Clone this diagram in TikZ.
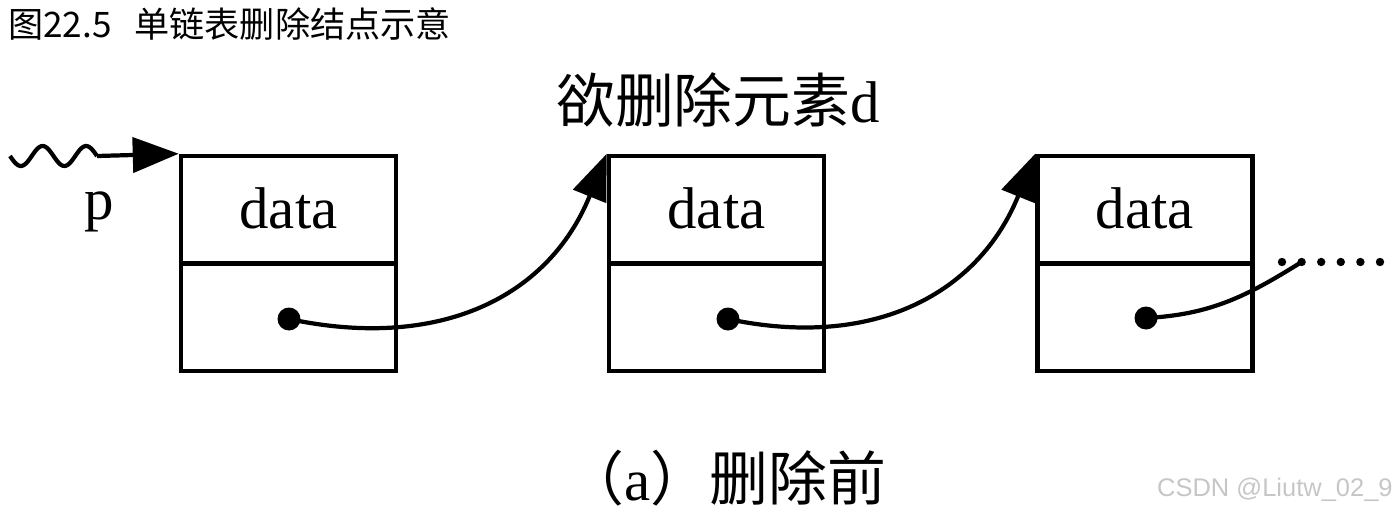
\documentclass[tikz,border=0pt]{standalone}
\usepackage{fontspec}
\setmainfont{Liberation Serif}
\setsansfont{Liberation Sans}
\newfontfamily\cjk{Noto Sans CJK SC}
\usepackage{tikz}
\usetikzlibrary{arrows.meta,positioning,calc}

\begin{document}
\begin{tikzpicture}[
        x=0.02cm, y=0.02cm,
        box/.style={draw, line width=2.6pt, minimum width=4.3cm, minimum height=4.3cm, inner sep=0pt},
        lbl/.style={font=\fontsize{33.5}{40}\selectfont, inner sep=0pt},
        dot/.style={circle, fill, minimum size=0.46cm, inner sep=0pt},
        ptr/.style={line width=2.4pt, -{Triangle[length=0.92cm,width=0.7cm]}},
      ]
        \useasboundingbox (0,0) rectangle (1397,-514);

        % title
        \node[anchor=west, inner sep=0pt, font=\cjk\fontsize{20}{24}\selectfont] (title) at (8,-24) {图22.5\hspace{0.65em}单链表删除结点示意};

        % nodes of the list
        \node[box] (b1) at (288.5,-263.5) {};
        \node[box] (b2) at (716.5,-263.5) {};
        \node[box] (b3) at (1145,-263.5) {};
        \foreach \b in {b1,b2,b3} {
          \draw[line width=2.6pt] (\b.west) -- (\b.east);
          \node[lbl] (\b-data) at ($(\b.north)!0.5!(\b.center)$) {data};
        }

        % next pointers
        \node[dot] (d1) at (289,-319) {};
        \node[dot] (d2) at (728,-319) {};
        \node[dot] (d3) at (1146,-318) {};
        \draw[ptr] (d1.center) to[out=-12, in=248, looseness=1.1] (b2.north west);
        \draw[ptr] (d2.center) to[out=-12, in=248, looseness=1.1] (b3.north west);

        % rest of the list
        \foreach \i in {0,...,5}
          \fill (1282+\i*19.6,-262) circle (4.2);
        \coordinate (more) at (1301.6,-262);
        \draw[line width=2.4pt] (d3.center) to[out=3, in=212] (more);

        % head pointer p
        \coordinate (w0) at (10,-156);
        \coordinate (w1) at (97,-156);
        \draw[line width=2.4pt] (w0) -- plot[domain=0:87, samples=60, smooth] ({10+\x}, {-156-10*sin(\x/43.5*360)}) -- (w1);
        \draw[ptr] (w1) -- (b1.north west);
        \node[lbl] (p) at (99,-212) {p};

        % labels
        \node[lbl] (del) at (718,-100) {{\cjk 欲删除元素}d};
        \node[lbl] (cap) at (726,-478) {{\cjk （}a{\cjk ）删除前}};
        \node[anchor=east, inner sep=0pt, text=gray!45, font=\sffamily\fontsize{14.5}{17}\selectfont] (mark) at (1393,-490) {CSDN @Liutw\_02\_9};
      \end{tikzpicture}
\end{document}
